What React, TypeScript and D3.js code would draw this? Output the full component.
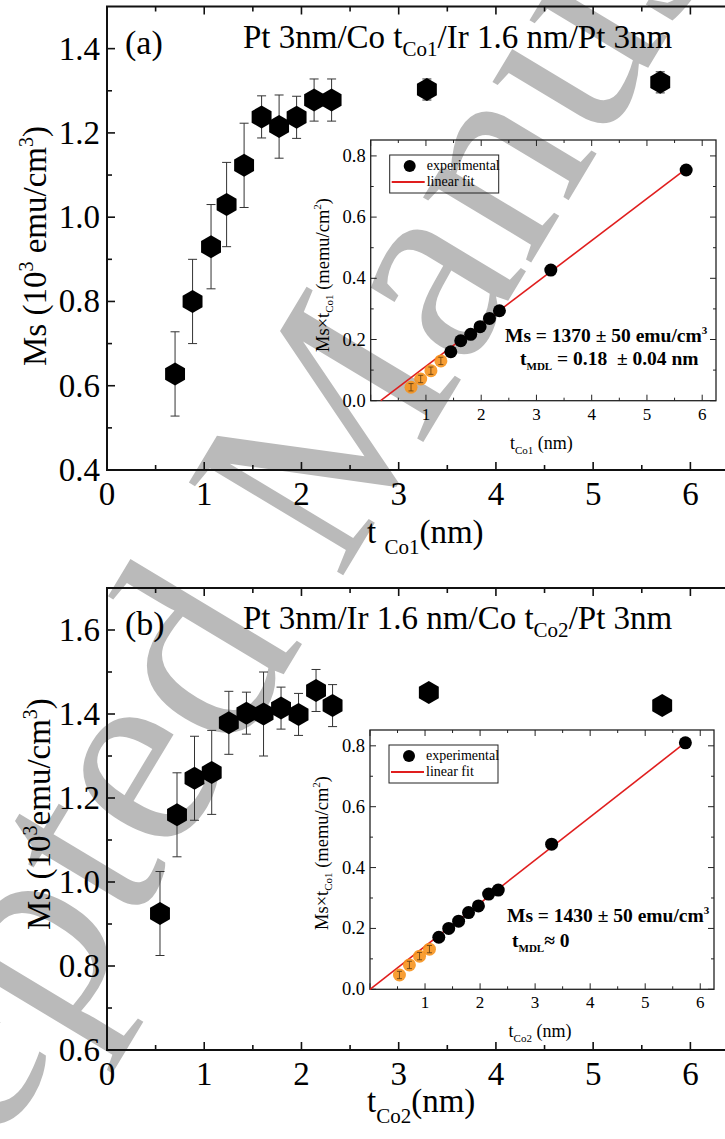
import * as d3 from "d3";
import React from "react";

const FONT = "'Liberation Serif', 'Times New Roman', serif";

// panel (a): Pt 3nm/Co tCo1/Ir 1.6 nm/Pt 3nm
const tCo1 = [0.70, 0.88, 1.07, 1.23, 1.41, 1.59, 1.77, 1.95, 2.13, 2.31, 3.29, 5.69];
const msCo1 = [0.628, 0.80, 0.93, 1.03, 1.123, 1.238, 1.215, 1.237, 1.278, 1.278, 1.303, 1.32];
const errCo1 = [0.1, 0.1, 0.1, 0.1, 0.1, 0.05, 0.075, 0.05, 0.05, 0.05, 0.025, 0.025];

// panel (b): Pt 3nm/Ir 1.6 nm/Co tCo2/Pt 3nm
const tCo2 = [0.545, 0.72, 0.90, 1.077, 1.253, 1.434, 1.61, 1.79, 1.97, 2.15, 2.32, 3.31, 5.71];
const msCo2 = [0.925, 1.16, 1.247, 1.261, 1.379, 1.402, 1.40, 1.414, 1.399, 1.456, 1.42, 1.451, 1.42];
const errCo2 = [0.1, 0.1, 0.1, 0.1, 0.075, 0.05, 0.1, 0.05, 0.05, 0.05, 0.05, 0.012, 0.012];

// insets: Ms x t (memu/cm2) vs t (nm); orange = points below the fit range
const insetOrangeTA = [0.73, 0.905, 1.09, 1.27];
const insetOrangeVA = [0.044, 0.071, 0.098, 0.13];
const insetBlackTA = [1.45, 1.63, 1.81, 1.98, 2.15, 2.33, 3.26, 5.71];
const insetBlackVA = [0.16, 0.196, 0.217, 0.242, 0.269, 0.294, 0.427, 0.754];
const fitSlopeA = 0.137; // 1370 emu/cm3
const fitT0A = 0.18; // t_MDL
const fitEndA = 5.72;

const insetOrangeTB = [0.535, 0.716, 0.90, 1.08];
const insetOrangeVB = [0.047, 0.080, 0.109, 0.132];
const insetBlackTB = [1.25, 1.43, 1.61, 1.79, 1.97, 2.155, 2.33, 3.30, 5.73];
const insetBlackVB = [0.171, 0.200, 0.224, 0.252, 0.274, 0.313, 0.326, 0.477, 0.810];
const fitSlopeB = 0.1415;
const fitT0B = 0;
const fitEndB = 5.75;

const xTickLabels = ["0", "1", "2", "3", "4", "5", "6"];
const insetYTickLabels = ["0.0", "0.2", "0.4", "0.6", "0.8"];

// pointy-top hexagon marker
const hex = (r: number) =>
  d3.line()(d3.range(6).map((i) => {
    const a = -Math.PI / 2 + (i * Math.PI) / 3;
    return [r * Math.cos(a), r * Math.sin(a)] as [number, number];
  })) + "Z";

const steps = (from: number, step: number, n: number) => d3.range(n).map((i) => +(from + i * step).toFixed(3));

function Inset({ left, right, top, bottom, oT, oV, bT, bV, slope, t0, tEnd, ms, mdl, sub, labelY }: any) {
  const x = d3.scaleLinear().domain([0, 6.25]).range([left, right]);
  const y = d3.scaleLinear().domain([0, 0.852]).range([bottom, top]);
  const fit = d3.line<number>().x((t) => x(t)).y((t) => y(slope * (t - t0)))([t0, tEnd]);
  const xMaj = steps(0, 1, 7), xMin = steps(0.5, 1, 6);
  const yMaj = steps(0, 0.2, 5), yMin = steps(0.1, 0.2, 4);
  const lg = { x: left + 19, y: top + 15 };
  return (
    <g fontFamily={FONT}>
      <rect x={left} y={top} width={right - left} height={bottom - top} fill="none" stroke="#222" strokeWidth={1.3} />
      {xMaj.map((v) => <g key={"xm" + v}>
        <line x1={x(v)} x2={x(v)} y1={bottom} y2={bottom - 6} stroke="#222" />
        <line x1={x(v)} x2={x(v)} y1={top} y2={top + 6} stroke="#222" />
        {v > 0 && <text x={x(v)} y={bottom + 19} fontSize={17} textAnchor="middle">{xTickLabels[v]}</text>}
      </g>)}
      {xMin.map((v) => <g key={"xn" + v}>
        <line x1={x(v)} x2={x(v)} y1={bottom} y2={bottom - 3} stroke="#222" />
        <line x1={x(v)} x2={x(v)} y1={top} y2={top + 3} stroke="#222" />
      </g>)}
      {yMaj.map((v, i) => <g key={"ym" + v}>
        <line x1={left} x2={left + 6} y1={y(v)} y2={y(v)} stroke="#222" />
        <line x1={right} x2={right - 6} y1={y(v)} y2={y(v)} stroke="#222" />
        <text x={left - 5} y={y(v) + 6} fontSize={18.5} textAnchor="end">{insetYTickLabels[i]}</text>
      </g>)}
      {yMin.map((v) => <g key={"yn" + v}>
        <line x1={left} x2={left + 3} y1={y(v)} y2={y(v)} stroke="#222" />
        <line x1={right} x2={right - 3} y1={y(v)} y2={y(v)} stroke="#222" />
      </g>)}
      <text transform={`translate(${left - 42},${labelY}) rotate(-90)`} fontSize={18.5} textAnchor="middle">
        Ms×t<tspan fontSize={11} dy={4}>Co1</tspan><tspan dy={-4}> (memu/cm</tspan><tspan fontSize={11} dy={-8}>2</tspan><tspan dy={8}>)</tspan>
      </text>
      <text x={(left + right) / 2 - 2} y={bottom + 48} fontSize={18} textAnchor="middle">
        t<tspan fontSize={11} dy={5}>{sub}</tspan><tspan dy={-5}> (nm)</tspan>
      </text>
      <path d={fit || ""} stroke="#e01e1e" strokeWidth={1.6} fill="none" />
      {oT.map((t: number, i: number) => <g key={"o" + i}>
        <circle cx={x(t)} cy={y(oV[i])} r={6.5} fill="#f7941d" opacity={0.9} />
        <line x1={x(t)} x2={x(t)} y1={y(oV[i] + 0.012)} y2={y(oV[i] - 0.012)} stroke="#5a3a10" strokeWidth={0.8} />
        <line x1={x(t) - 2.5} x2={x(t) + 2.5} y1={y(oV[i] + 0.012)} y2={y(oV[i] + 0.012)} stroke="#5a3a10" strokeWidth={0.8} />
        <line x1={x(t) - 2.5} x2={x(t) + 2.5} y1={y(oV[i] - 0.012)} y2={y(oV[i] - 0.012)} stroke="#5a3a10" strokeWidth={0.8} />
      </g>)}
      {bT.map((t: number, i: number) => <circle key={"b" + i} cx={x(t)} cy={y(bV[i])} r={6.5} fill="#000" />)}
      <rect x={lg.x} y={lg.y} width={109} height={38} fill="none" stroke="#222" strokeWidth={1} />
      <circle cx={lg.x + 20} cy={lg.y + 11} r={6} fill="#000" />
      <text x={lg.x + 37} y={lg.y + 15} fontSize={14}>experimental</text>
      <line x1={lg.x + 2} x2={lg.x + 35} y1={lg.y + 27} y2={lg.y + 27} stroke="#e01e1e" strokeWidth={2} />
      <text x={lg.x + 37} y={lg.y + 31} fontSize={14}>linear fit</text>
      <text x={ms.x} y={ms.y} fontSize={19.5} fontWeight="bold" style={{ whiteSpace: "pre" }}>
        {ms.text}<tspan fontSize={11} dy={-8}>3</tspan>
      </text>
      <text x={mdl.x} y={mdl.y} fontSize={19.5} fontWeight="bold" style={{ whiteSpace: "pre" }}>
        t<tspan fontSize={11} dy={5}>MDL</tspan><tspan dy={-5}>{mdl.text}</tspan>
      </text>
    </g>
  );
}

function Panel({ top, bottom, yDomain, yMaj, yMin, t, ms, err, letter, title, xSub, yTitle, yTitleX, yTitleY, xTitleY, inset }: any) {
  const x = d3.scaleLinear().domain([0, 6.5]).range([107, 739]);
  const y = d3.scaleLinear().domain(yDomain).range([bottom, top]);
  const xMaj = steps(0, 1, 7), xMin = steps(0.5, 1, 6);
  const marker = hex(11.5);
  return (
    <g fontFamily={FONT}>
      <path d={`M${x(6.5)},${top}H${x(0)}V${bottom}H${x(6.5)}`} fill="none" stroke="#111" strokeWidth={2} />
      {xMaj.map((v) => <g key={"xm" + v}>
        <line x1={x(v)} x2={x(v)} y1={bottom} y2={bottom - 8} stroke="#111" strokeWidth={1.6} />
        <line x1={x(v)} x2={x(v)} y1={top} y2={top + 8} stroke="#111" strokeWidth={1.6} />
        <text x={x(v)} y={bottom + 35} fontSize={33} textAnchor="middle">{xTickLabels[v]}</text>
      </g>)}
      {xMin.map((v) => <g key={"xn" + v}>
        <line x1={x(v)} x2={x(v)} y1={bottom} y2={bottom - 5} stroke="#111" strokeWidth={1.6} />
        <line x1={x(v)} x2={x(v)} y1={top} y2={top + 5} stroke="#111" strokeWidth={1.6} />
      </g>)}
      {yMaj.map((v: number) => <g key={"ym" + v}>
        <line x1={x(0)} x2={x(0) + 8} y1={y(v)} y2={y(v)} stroke="#111" strokeWidth={1.6} />
        <text x={x(0) - 7} y={y(v) + 11} fontSize={33} textAnchor="end">{d3.format(".1f")(v)}</text>
      </g>)}
      {yMin.map((v: number) => <line key={"yn" + v} x1={x(0)} x2={x(0) + 5} y1={y(v)} y2={y(v)} stroke="#111" strokeWidth={1.6} />)}
      <text x={125} y={top + 47} fontSize={34}>({letter})</text>
      <text x={243} y={top + 41} fontSize={33}>
        {title[0]}<tspan fontSize={21} dy={8}>{title[1]}</tspan><tspan dy={-8}>{title[2]}</tspan>
      </text>
      <text transform={`translate(${yTitleX},${yTitleY}) rotate(-90)`} fontSize={33} textAnchor="middle">
        {yTitle[0]}<tspan fontSize={20} dy={-13}>3</tspan><tspan dy={13}>{yTitle[1]}</tspan><tspan fontSize={20} dy={-13}>3</tspan><tspan dy={13}>)</tspan>
      </text>
      <text x={367} y={xTitleY} fontSize={33}>
        {xSub.gap ? "t " : "t"}<tspan fontSize={21} dy={11}>{xSub.text}</tspan><tspan dy={-11}>(nm)</tspan>
      </text>
      {t.map((tv: number, i: number) => {
        const cx = x(tv), lo = y(ms[i] - err[i]), hi = y(ms[i] + err[i]);
        return <g key={"e" + i} stroke="#333" strokeWidth={1}>
          <line x1={cx} x2={cx} y1={lo} y2={hi} />
          <line x1={cx - 4.5} x2={cx + 4.5} y1={lo} y2={lo} />
          <line x1={cx - 4.5} x2={cx + 4.5} y1={hi} y2={hi} />
        </g>;
      })}
      {t.map((tv: number, i: number) => <path key={"p" + i} d={marker} transform={`translate(${x(tv)},${y(ms[i])})`} fill="#000" />)}
      <Inset {...inset} />
    </g>
  );
}

export default function App() {
  return (
    <svg width={725} height={1139} style={{ position: "absolute", left: 0, top: 0, background: "#fff" }}>
      <text transform="translate(-231,1531) rotate(-59)" fontFamily={FONT} fontSize={275} fill="#bababa">Accepted Manuscript</text>
      <Panel
        top={6.5} bottom={470} yDomain={[0.4, 1.5]}
        yMaj={steps(0.4, 0.2, 6)} yMin={steps(0.5, 0.2, 5)}
        t={tCo1} ms={msCo1} err={errCo1} letter="a"
        title={["Pt 3nm/Co t", "Co1", "/Ir 1.6 nm/Pt 3nm"]}
        yTitle={["Ms (10", " emu/cm"]} yTitleX={46} yTitleY={246}
        xSub={{ text: "Co1", gap: true }} xTitleY={543}
        inset={{
          left: 370.7, right: 716, top: 140, bottom: 400.7, labelY: 275,
          oT: insetOrangeTA, oV: insetOrangeVA, bT: insetBlackTA, bV: insetBlackVA,
          slope: fitSlopeA, t0: fitT0A, tEnd: fitEndA, sub: "Co1",
          ms: { x: 505, y: 342, text: "Ms = 1370 ± 50 emu/cm" },
          mdl: { x: 520, y: 365, text: " = 0.18  ± 0.04 nm" },
        }}
      />
      <Panel
        top={588} bottom={1050} yDomain={[0.6, 1.7]}
        yMaj={steps(0.6, 0.2, 6)} yMin={steps(0.7, 0.2, 5)}
        t={tCo2} ms={msCo2} err={errCo2} letter="b"
        title={["Pt 3nm/Ir 1.6 nm/Co t", "Co2", "/Pt 3nm"]}
        yTitle={["Ms (10", "emu/cm"]} yTitleX={50} yTitleY={814}
        xSub={{ text: "Co2", gap: false }} xTitleY={1112}
        inset={{
          left: 370, right: 714, top: 730, bottom: 989.3, labelY: 853,
          oT: insetOrangeTB, oV: insetOrangeVB, bT: insetBlackTB, bV: insetBlackVB,
          slope: fitSlopeB, t0: fitT0B, tEnd: fitEndB, sub: "Co2",
          ms: { x: 507, y: 922, text: "Ms = 1430 ± 50 emu/cm" },
          mdl: { x: 512, y: 947, text: "≈ 0" },
        }}
      />
    </svg>
  );
}
